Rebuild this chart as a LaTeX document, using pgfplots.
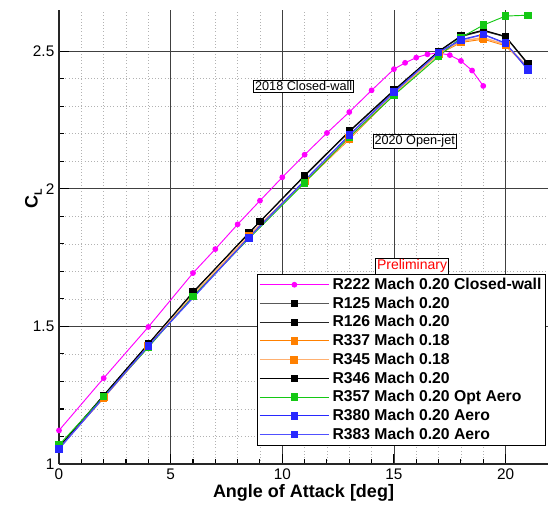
\documentclass[border=0pt]{standalone}
\usepackage{fontspec}
\setmainfont{Liberation Sans}
\usepackage{pgfplots}
\pgfplotsset{compat=1.18}

\definecolor{cmag}{RGB}{255,0,255}
\definecolor{corange}{RGB}{255,128,0}
\definecolor{clorange}{RGB}{255,176,112}
\definecolor{cgreen}{RGB}{20,200,20}
\definecolor{cblue}{RGB}{40,40,255}
\definecolor{cblueb}{RGB}{80,80,255}

\begin{document}
\begin{tikzpicture}
\begin{axis}[
    width=366.75pt, height=340.5pt, scale only axis,
    xmin=0, xmax=21.9, ymin=1, ymax=2.65,
    axis x line*=bottom, axis y line*=left,
    axis line style={line width=2pt, black!85},
    xtick={0,5,10,15,20}, ytick={1,1.5,2,2.5},
    minor x tick num=4, minor y tick num=4,
    tick align=inside,
    major tick length=7.5pt, minor tick length=4pt,
    tick style={black, line width=0.8pt},
    grid=both,
    major grid style={black!75, line width=0.6pt},
    minor grid style={black!30, dotted, line width=0.5pt},
    /pgf/number format/assume math mode=true,
    ticklabel style={font=\fontsize{11.5}{13}\selectfont},
    xlabel={Angle of Attack [deg]},
    xlabel style={font=\bfseries\fontsize{13.5}{16}\selectfont, yshift=3pt},
    ylabel={C\raisebox{-0.45ex}{\fontsize{8}{9}\selectfont L}},
    ylabel style={font=\bfseries\fontsize{13.5}{16}\selectfont,
        at={(axis description cs:-0.052,0.585)}, anchor=center},
    legend style={at={(0.405,0.04)}, anchor=south west,
        draw=black, line width=0.8pt, fill=white, inner sep=1pt,
        font=\bfseries\fontsize{11.8}{13.5}\selectfont, row sep=0pt,
        nodes={inner sep=2pt}},
    legend cell align=left,
    legend image code/.code={\draw[mark repeat=2, mark phase=2, #1]
        plot coordinates {(0pt,0pt) (26pt,0pt) (52pt,0pt)};},
    every axis plot/.append style={line width=0.7pt},
]

\addplot[cmag, mark=*, mark size=1.8pt] coordinates {
 (0,1.122) (2,1.312) (4,1.498) (6,1.694) (7,1.781) (8,1.871) (9,1.957)
 (10,2.042) (11,2.124) (12,2.203) (13,2.279) (14,2.358) (15,2.435)
 (15.5,2.458) (16,2.477) (16.5,2.489) (17,2.494) (17.5,2.486) (18,2.465)
 (18.5,2.43) (19,2.374)
};
\addlegendentry{R222 Mach 0.20 Closed-wall}

\addplot[black!65, mark=square*, mark options={fill=black, draw=black}, mark size=2.4pt] coordinates {
 (0,1.060) (2,1.248) (4,1.435) (6,1.622) (8.5,1.839) (11,2.046) (13,2.207)
 (15,2.356) (17,2.498) (18,2.553) (19,2.574) (20,2.552) (21,2.452)
};
\addlegendentry{R125 Mach 0.20}

\addplot[black!85, mark=square*, mark options={fill=black, draw=black}, mark size=2.4pt] coordinates {
 (0,1.061) (2,1.249) (4,1.436) (6,1.623) (8.5,1.840) (11,2.047) (13,2.208)
 (15,2.357) (17,2.499) (18,2.554) (19,2.575) (20,2.553) (21,2.454)
};
\addlegendentry{R126 Mach 0.20}

\addplot[corange, mark=square*, mark size=2.4pt] coordinates {
 (0,1.057) (2,1.240) (4,1.426) (6,1.611) (8.5,1.826) (11,2.024) (13,2.180)
 (15,2.343) (17,2.489) (18,2.532) (19,2.544) (20,2.520) (21,2.440)
};
\addlegendentry{R337 Mach 0.18}

\addplot[clorange, line width=1.2pt, mark=square*, mark options={fill=corange, draw=corange}, mark size=2.4pt] coordinates {
 (0,1.058) (2,1.242) (4,1.428) (6,1.614) (8.5,1.829) (11,2.028) (13,2.185)
 (15,2.346) (17,2.491) (18,2.537) (19,2.549) (20,2.524) (21,2.442)
};
\addlegendentry{R345 Mach 0.18}

\addplot[black, mark=square*, mark size=2.4pt] coordinates {
 (0,1.062) (2,1.250) (4,1.437) (6,1.625) (9,1.881) (11,2.049) (13,2.210)
 (15,2.359) (17,2.500) (18,2.556) (19,2.577) (20,2.554) (21,2.456)
};
\addlegendentry{R346 Mach 0.20}

\addplot[cgreen, mark=square*, mark size=2.4pt] coordinates {
 (0,1.069) (2,1.245) (4,1.424) (6,1.609) (8.5,1.819) (11,2.022) (13,2.188)
 (15,2.340) (17,2.481) (18,2.550) (19,2.595) (20,2.628) (21,2.631)
};
\addlegendentry{R357 Mach 0.20 Opt Aero}

\addplot[cblue, mark=square*, mark size=2.4pt] coordinates {
 (0,1.056) (4,1.430) (8.5,1.824) (13,2.196) (15,2.352) (17,2.496)
 (18,2.542) (19,2.562) (20,2.530) (21,2.432)
};
\addlegendentry{R380 Mach 0.20 Aero}

\addplot[cblueb, mark=square*, mark options={fill=cblue, draw=cblue}, mark size=2.4pt] coordinates {
 (0,1.054) (4,1.428) (8.5,1.822) (13,2.194) (15,2.350) (17,2.495)
 (18,2.540) (19,2.560) (20,2.528) (21,2.438)
};
\addlegendentry{R383 Mach 0.20 Aero}

\node[draw=black, fill=white, inner sep=1pt, line width=0.6pt,
      font=\fontsize{9.5}{11}\selectfont] at (axis cs:10.96,2.373) {2018 Closed-wall};
\node[draw=black, fill=white, inner sep=1pt, line width=0.6pt,
      font=\fontsize{9.5}{11}\selectfont] at (axis cs:15.93,2.173) {2020 Open-jet};
\node[draw=black, fill=white, inner sep=1pt, line width=0.6pt, text=red,
      font=\fontsize{10.5}{12}\selectfont] at (axis description cs:0.722,0.436) {Preliminary};

\coordinate (ll) at (rel axis cs:0,0);
\coordinate (ur) at (rel axis cs:1,1);
\end{axis}
\pgfresetboundingbox
\path ([shift={(-44.25pt,-31.5pt)}]ll) rectangle ([shift={(0pt,7.5pt)}]ur);
\end{tikzpicture}
\end{document}
